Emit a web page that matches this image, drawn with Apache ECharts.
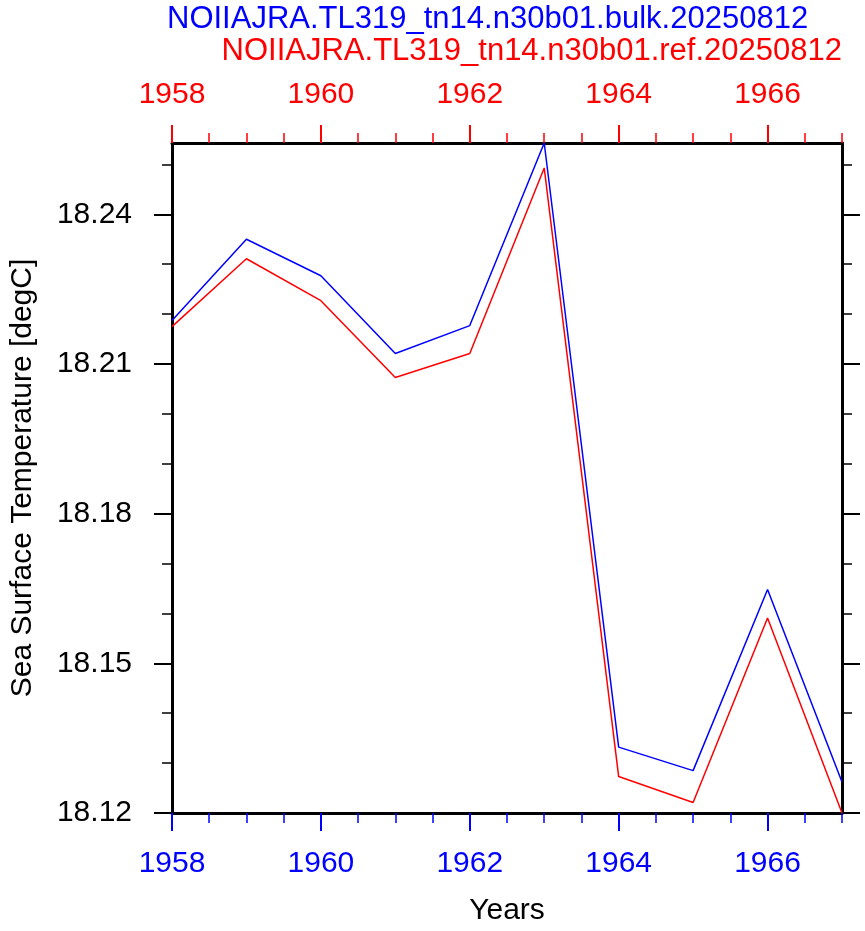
<!DOCTYPE html>
<html>
<head>
<meta charset="utf-8">
<script src="https://cdn.jsdelivr.net/npm/echarts@6/dist/echarts.min.js"></script>
<style>
  html, body { margin: 0; padding: 0; background: #fff; }
  #chart { width: 865px; height: 931px; }
</style>
</head>
<body>
<div id="chart"></div>
<script>
const years = [1958, 1959, 1960, 1961, 1962, 1963, 1964, 1965, 1966, 1967];
const bulkSST = [18.2187, 18.2350, 18.2277, 18.2121, 18.2177, 18.2543, 18.1332, 18.1285, 18.1648, 18.1262];
const refSST = [18.2175, 18.2311, 18.2227, 18.2073, 18.2121, 18.2493, 18.1273, 18.1221, 18.1591, 18.1200];

const xMajorTicks = [1958, 1960, 1962, 1964, 1966];
const xMinorTicks = [1958.5, 1959, 1959.5, 1960.5, 1961, 1961.5, 1962.5, 1963, 1963.5, 1964.5, 1965, 1965.5, 1966.5, 1967];
const yMajorTicks = [18.12, 18.15, 18.18, 18.21, 18.24];
const yMinorTicks = [18.13, 18.14, 18.16, 18.17, 18.19, 18.20, 18.22, 18.23, 18.25];

const bulkName = 'NOIIAJRA.TL319_tn14.n30b01.bulk.20250812';
const refName = 'NOIIAJRA.TL319_tn14.n30b01.ref.20250812';

const font = 'Liberation Sans';
const xMin = 1958, xMax = 1967;
const yMin = 18.12, yMax = 18.2543;

let chart = echarts.init(document.getElementById('chart'), null, { renderer: 'canvas' });

function xAxisDef(position, color, major, withLabels) {
    return {
        type: 'value', position: position, min: xMin, max: xMax,
        axisLine: { show: major, lineStyle: { color: '#000', width: 3 } },
        splitLine: { show: false },
        axisTick: {
            show: true, inside: false, length: major ? 18 : 10,
            customValues: major ? xMajorTicks : xMinorTicks,
            lineStyle: { color: color, width: major ? 2 : 1.5 }
        },
        axisLabel: {
            show: withLabels, customValues: xMajorTicks, color: color,
            fontFamily: font, fontSize: 30, margin: position === 'bottom' ? 36 : 33,
            formatter: v => String(v)
        }
    };
}

function yAxisDef(position, major, withLabels) {
    return {
        type: 'value', position: position, min: yMin, max: yMax,
        axisLine: { show: major, lineStyle: { color: '#000', width: 3 } },
        splitLine: { show: false },
        axisTick: {
            show: true, inside: false, length: major ? 18 : 10,
            customValues: major ? yMajorTicks : yMinorTicks,
            lineStyle: { color: '#000', width: major ? 2 : 1.5 }
        },
        axisLabel: {
            show: withLabels, customValues: yMajorTicks, color: '#000',
            fontFamily: font, fontSize: 30, margin: 40,
            formatter: v => v.toFixed(2)
        }
    };
}

let xAxes = [
    xAxisDef('bottom', '#0000ff', true, true),
    xAxisDef('bottom', '#0000ff', false, false),
    xAxisDef('top', '#ff0000', true, true),
    xAxisDef('top', '#ff0000', false, false)
];
xAxes[0].name = 'Years';
xAxes[0].nameLocation = 'middle';
xAxes[0].nameGap = 83;
xAxes[0].nameTextStyle = { color: '#000', fontFamily: font, fontSize: 30 };

let yAxes = [
    yAxisDef('left', true, true),
    yAxisDef('left', false, false),
    yAxisDef('right', true, false),
    yAxisDef('right', false, false)
];
yAxes[0].name = 'Sea Surface Temperature [degC]';
yAxes[0].nameLocation = 'middle';
yAxes[0].nameGap = 134;
yAxes[0].nameTextStyle = { color: '#000', fontFamily: font, fontSize: 30 };

chart.setOption({
    animation: false,
    grid: { left: 167, right: 23, top: 143, bottom: 114 },
    graphic: [
        { type: 'text', left: 167, top: 4, style: { text: bulkName, fill: '#0000ff', font: '31px "Liberation Sans"' } },
        { type: 'text', right: 23, top: 36, style: { text: refName, fill: '#ff0000', font: '31px "Liberation Sans"' } }
    ],
    xAxis: xAxes,
    yAxis: yAxes,
    series: [
        {
            name: refName, type: 'line', xAxisIndex: 0, yAxisIndex: 0,
            showSymbol: false, lineStyle: { color: '#ff0000', width: 1.5 },
            data: years.map((y, i) => [y, refSST[i]])
        },
        {
            name: bulkName, type: 'line', xAxisIndex: 0, yAxisIndex: 0,
            showSymbol: false, lineStyle: { color: '#0000ff', width: 1.5 },
            data: years.map((y, i) => [y, bulkSST[i]])
        }
    ]
});
</script>
</body>
</html>
